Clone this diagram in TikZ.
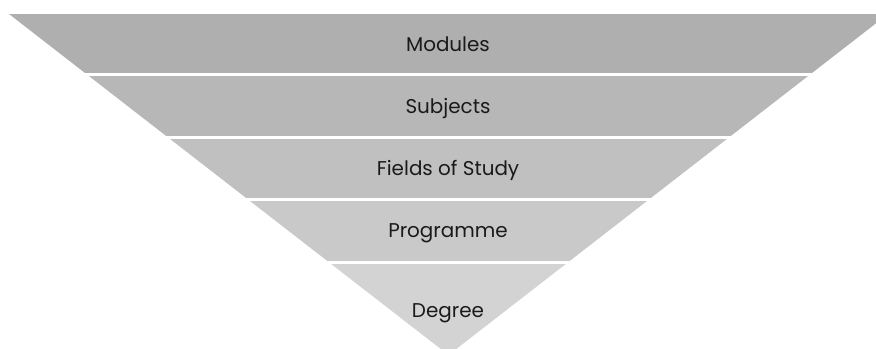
\documentclass[tikz,border=0pt]{standalone}
\usepackage{fontspec}
\setmainfont{Poppins}
\definecolor{bandA}{RGB}{175,175,175}
\definecolor{bandB}{RGB}{183,183,183}
\definecolor{bandC}{RGB}{192,192,192}
\definecolor{bandD}{RGB}{201,201,201}
\definecolor{bandE}{RGB}{211,211,211}
\definecolor{txt}{RGB}{26,26,26}
\begin{document}
\begin{tikzpicture}[x=1bp,y=-1bp,
  lbl/.style={text=txt,font=\fontsize{20}{22}\selectfont,inner sep=0pt,anchor=base}]
\useasboundingbox (0,0) rectangle (876,348);
\clip (0,0) rectangle (876,348);
\begin{scope}
  \clip (9,14) -- (888,14) -- (448.5,355) -- cycle;
  \fill[bandA] (0,14) rectangle (900,73);
  \fill[bandB] (0,76) rectangle (900,136);
  \fill[bandC] (0,139) rectangle (900,198);
  \fill[bandD] (0,201) rectangle (900,261);
  \fill[bandE] (0,264) rectangle (900,360);
\end{scope}
\node[lbl] (modules) at (448,51) {Modules};
\node[lbl] (subjects) at (448,113) {Subjects};
\node[lbl] (fields) at (448,175) {Fields of Study};
\node[lbl] (programme) at (448,237) {Programme};
\node[lbl] (degree) at (448,317) {Degree};
\end{tikzpicture}
\end{document}
